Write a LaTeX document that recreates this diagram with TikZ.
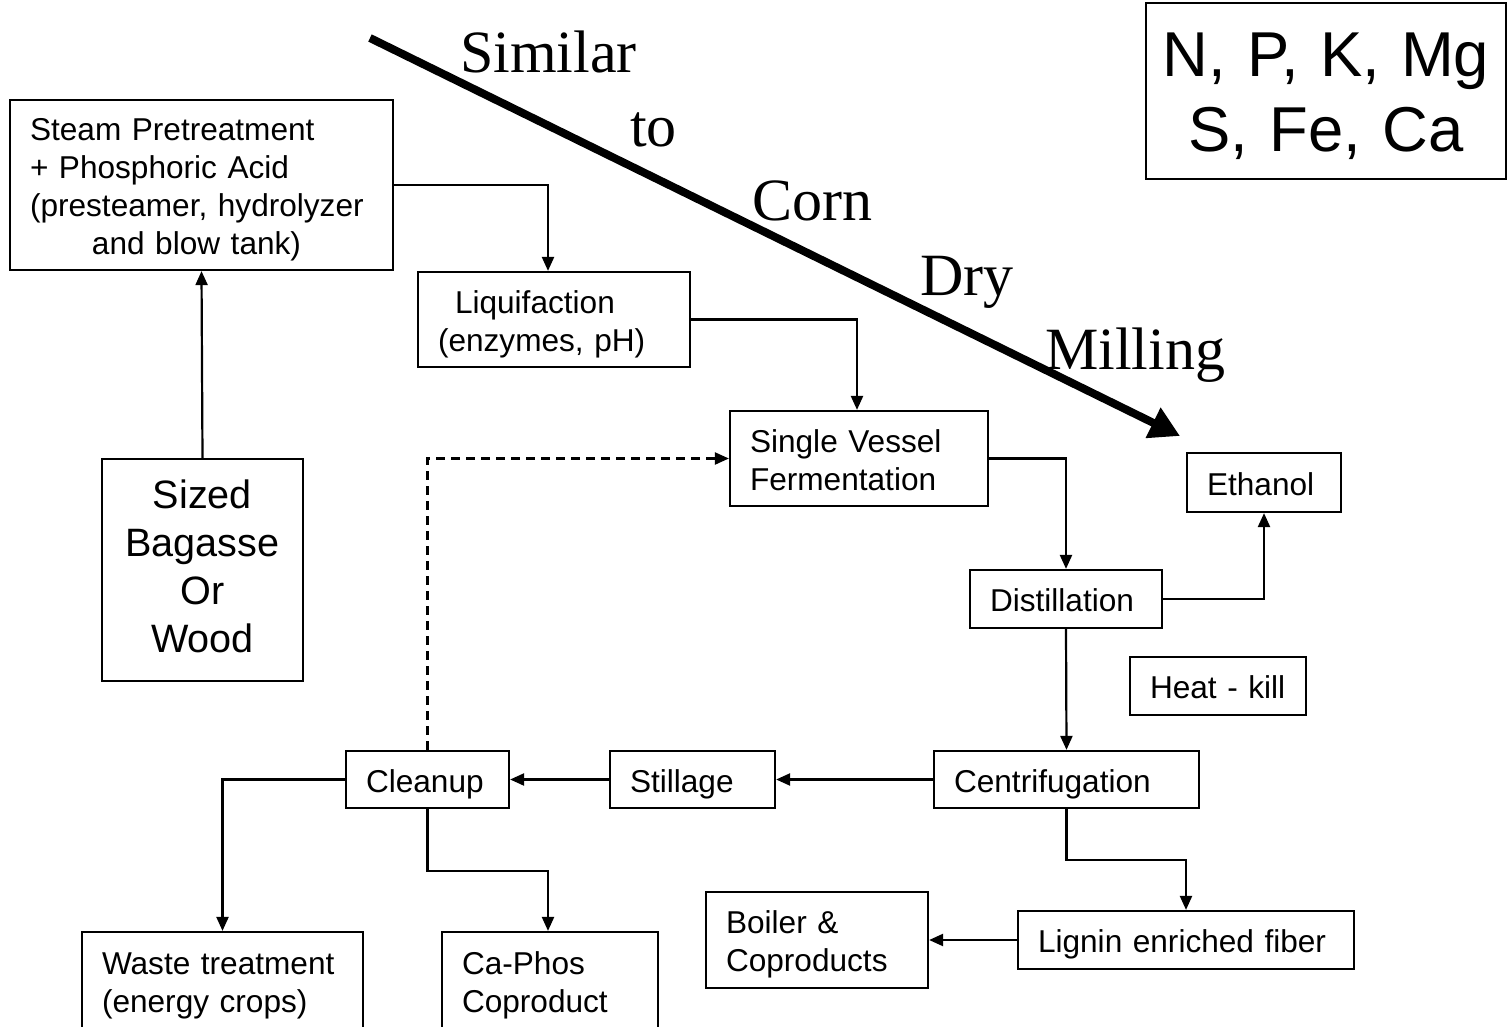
\documentclass[tikz,border=0pt]{standalone}
\usepackage{fontspec}
\setmainfont{Liberation Sans}
\newfontfamily\serifface{Liberation Serif}
\usetikzlibrary{arrows.meta}
\newcommand{\mytopstrut}{\rule{0pt}{32pt}}
\newcommand{\mybotstrut}{\rule[-7pt]{0pt}{7pt}}
\begin{document}
\begin{tikzpicture}[x=1pt,y=-1pt]
\tikzset{
  basebox/.style={draw, line width=2.2pt, inner xsep=20pt, inner ysep=0pt},
  box/.style={basebox, align=left, font=\fontsize{31.6}{38}\selectfont},
  cbox/.style={basebox, align=center},
  arr/.style={line width=2.2pt, -{Triangle[length=14pt,width=12pt]}},
  darr/.style={arr, dash pattern=on 9pt off 6pt},
  bigarr/.style={line width=8pt, -{Triangle[length=30pt,width=32pt]}},
  serif/.style={font=\serifface\fontsize{60}{72}\selectfont, inner sep=0pt, anchor=base west},
}
\useasboundingbox (0,0) rectangle (1507,1027);
\fill[white] (0,0) rectangle (1507,1027);

% boxes
\node[box, minimum width=383pt, minimum height=170pt, text width=343pt] (steam) at (201.5,185)
  {\mytopstrut Steam Pretreatment\\+ Phosphoric Acid\\(presteamer, hydrolyzer\\\hspace*{62pt}and blow tank)\mybotstrut};
\node[box, minimum width=272pt, minimum height=95pt, text width=232pt] (liq) at (554,319.5)
  {\mytopstrut\hspace*{17pt}Liquifaction\\(enzymes, pH)\mybotstrut};
\node[box, minimum width=258pt, minimum height=95pt, text width=218pt] (svf) at (859,458.5)
  {\mytopstrut Single Vessel\\Fermentation\mybotstrut};
\node[box, minimum width=154pt, minimum height=59pt, text width=114pt] (eth) at (1264,482.5)
  {\mytopstrut Ethanol\mybotstrut};
\node[box, minimum width=192pt, minimum height=58pt, text width=152pt] (dist) at (1066,599)
  {\mytopstrut Distillation\mybotstrut};
\node[box, minimum width=176pt, minimum height=58pt, text width=136pt] (heat) at (1218,686)
  {\mytopstrut Heat - kill\mybotstrut};
\node[box, minimum width=265pt, minimum height=57pt, text width=225pt] (centr) at (1066.5,779.5)
  {\mytopstrut Centrifugation\mybotstrut};
\node[box, minimum width=165pt, minimum height=57pt, text width=125pt] (still) at (692.5,779.5)
  {\mytopstrut Stillage\mybotstrut};
\node[box, minimum width=163pt, minimum height=57pt, text width=123pt] (clean) at (427.5,779.5)
  {\mytopstrut Cleanup\mybotstrut};
\node[cbox, minimum width=201pt, minimum height=222pt, text width=161pt,
  font=\fontsize{39.6}{48}\selectfont] (sized) at (202.5,570)
  {Sized\\Bagasse\\Or\\Wood\rule[-8pt]{0pt}{8pt}};
\node[box, minimum width=281pt, minimum height=98pt, text width=241pt] (waste) at (222.5,981)
  {\mytopstrut Waste treatment\\(energy crops)\mybotstrut};
\node[box, minimum width=216pt, minimum height=98pt, text width=176pt] (caphos) at (550,981)
  {\mytopstrut Ca-Phos\\Coproduct\mybotstrut};
\node[box, minimum width=222pt, minimum height=96pt, text width=182pt] (boiler) at (817,940)
  {\mytopstrut Boiler \&\\Coproducts\mybotstrut};
\node[box, minimum width=336pt, minimum height=58pt, text width=296pt] (lignin) at (1186,940)
  {\mytopstrut Lignin enriched fiber\mybotstrut};
\node[cbox, inner xsep=5pt, minimum width=360pt, minimum height=176pt, text width=350pt,
  font=\fontsize{63.4}{75}\selectfont] (npk) at (1326,91)
  {\rule{0pt}{55pt}N, P, K, Mg\\S, Fe, Ca};

% connectors
\draw[arr] (sized.north) -- (steam.south);
\draw[arr] (steam.east) -| ([xshift=-6pt]liq.north);
\draw[arr] (liq.east) -| ([xshift=-2pt]svf.north);
\draw[arr] (svf.east) -| (dist.north);
\draw[arr] (dist.east) -| (eth.south);
\draw[arr] (dist.south) -- (centr.north);
\draw[arr] (centr.west) -- (still.east);
\draw[arr] (still.west) -- (clean.east);
\draw[darr] (clean.north) |- (svf.west);
\draw[arr] (clean.west) -| (waste.north);
\draw[arr] (clean.south) -- ++(0,62) -| ([xshift=-2pt]caphos.north);
\draw[arr] (centr.south) -- ++(0,51) -| (lignin.north);
\draw[arr] (lignin.west) -- (boiler.east);

% big diagonal arrow and its words
\coordinate (ta) at (370,38);
\coordinate (tb) at (1180,436);
\draw[bigarr] (ta) -- (tb);
\node[serif] (w1) at (460,73) {Similar};
\node[serif] (w2) at (630,147) {to};
\node[serif] (w3) at (752,221) {Corn};
\node[serif] (w4) at (920,295) {Dry};
\node[serif] (w5) at (1045,369) {Milling};
\end{tikzpicture}
\end{document}
